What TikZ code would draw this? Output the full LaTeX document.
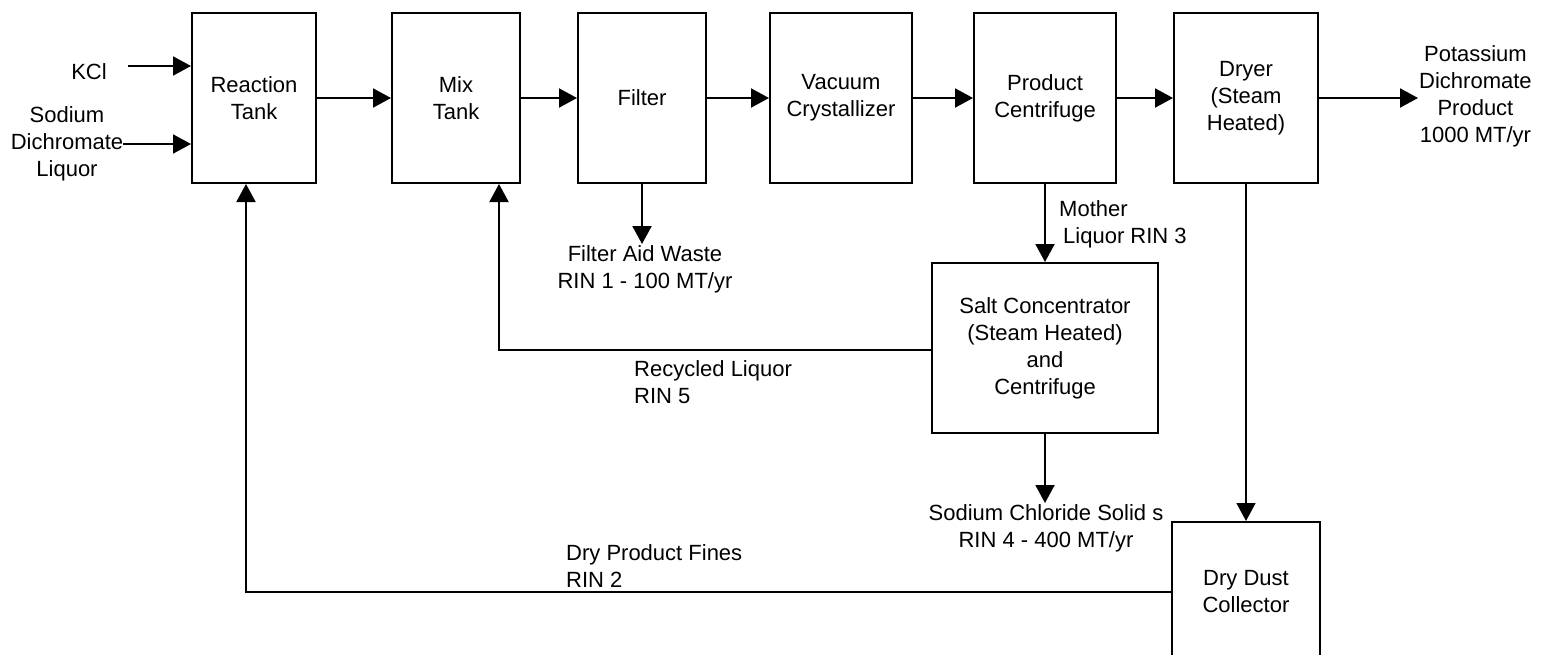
\documentclass[tikz,border=0pt]{standalone}
\usepackage{fontspec}
\setmainfont{Liberation Sans}
\usetikzlibrary{arrows.meta,calc}
\begin{document}
\begin{tikzpicture}[x=1pt,y=-1pt,
  every node/.style={font=\fontsize{22}{27}\selectfont, align=center},
  box/.style={draw, line width=2pt, minimum height=170pt, inner sep=0pt},
  lbl/.style={inner sep=1pt},
  tip/.style={-{Triangle[length=18pt,width=19pt]}},
  arr/.style={line width=2pt, tip}]
\useasboundingbox (0,0) rectangle (1545,654);
\fill[white] (0,0) rectangle (1545,654);
% process boxes
\node[box, minimum width=124pt] (rt) at (254,98) {Reaction\\Tank};
\node[box, minimum width=128pt] (mt) at (456,98) {Mix\\Tank};
\node[box, minimum width=128pt] (fi) at (642,98) {Filter};
\node[box, minimum width=142pt] (vc) at (841,98) {Vacuum\\Crystallizer};
\node[box, minimum width=142pt] (pc) at (1045,98) {Product\\Centrifuge};
\node[box, minimum width=144pt] (dr) at (1246,98) {Dryer\\(Steam\\Heated)};
\node[box, minimum width=226pt] (sc) at (1045,348) {Salt Concentrator\\(Steam Heated)\\and\\Centrifuge};
\node[box, minimum width=148pt, minimum height=140pt] (dd) at (1246,592) {Dry Dust\\Collector};
% labels
\node[lbl] (kcl) at (89,72) {KCl};
\node[lbl, inner sep=0pt] (sdl) at (67,144) {Sodium\\Dichromate\\Liquor};
\node[lbl, anchor=west] (pk) at (1418,96) {Potassium\\Dichromate\\Product\\1000 MT/yr};
\node[lbl, anchor=north] (fa) at (645,244) {Filter Aid Waste\\RIN 1 - 100 MT/yr};
\node[lbl, anchor=west, align=left] (ml) at (1058,224) {Mother\\\hspace*{4pt}Liquor RIN 3};
\node[lbl, anchor=north] (nacl) at (1046,503) {Sodium Chloride Solid s\\RIN 4 - 400 MT/yr};
\node[lbl, anchor=west, align=left] (rl) at (633,382) {Recycled Liquor\\RIN 5};
\node[lbl, anchor=west, align=left] (dpf) at (565,566) {Dry Product Fines\\RIN 2};
% feed arrows
\coordinate (kclin) at (128,66);
\draw[arr] (kclin) -- (kclin -| rt.west);
\draw[arr] (sdl.east) -- (sdl.east -| rt.west);
% main line
\draw[arr] (rt.east) -- (mt.west);
\draw[arr] (mt.east) -- (fi.west);
\draw[arr] (fi.east) -- (vc.west);
\draw[arr] (vc.east) -- (pc.west);
\draw[arr] (pc.east) -- (dr.west);
\draw[arr] (dr.east) -- (dr.east -| pk.west);
% side streams
\draw[arr] (fi.south) -- (fi.south |- fa.north);
\draw[arr] (pc.south) -- (sc.north);
\draw[arr] (sc.south) -- (sc.south |- nacl.north);
\draw[line width=1.5pt, tip] (dr.south) -- (dd.north);
% recycle loops
\coordinate (rlc) at ($(mt.south east)+(-22,0)$);
\draw[arr] ($(sc.west)+(0,2)$) -| (rlc);
\coordinate (dpc) at ($(rt.south)+(-8,0)$);
\draw[arr] ($(dd.west)+(0,0)$) -| (dpc);
\end{tikzpicture}
\end{document}
